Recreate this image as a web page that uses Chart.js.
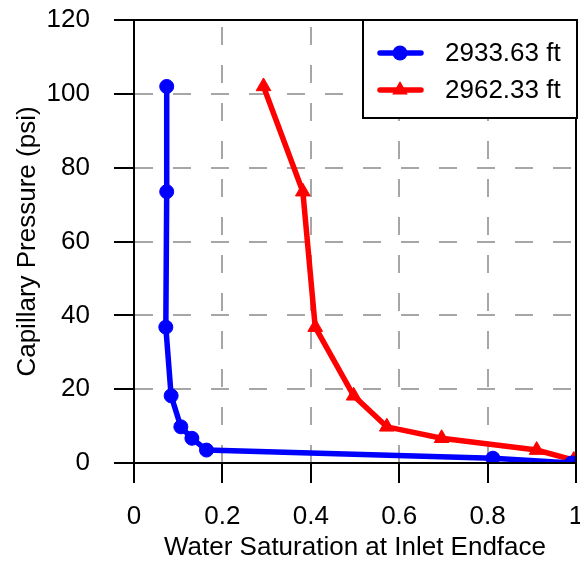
<!DOCTYPE html>
<html>
<head>
<meta charset="utf-8">
<title>Capillary Pressure vs Water Saturation</title>
<script src="https://cdn.jsdelivr.net/npm/chart.js@4.4.0/dist/chart.umd.min.js"></script>
<style>
  html, body { margin: 0; padding: 0; background: #fff; }
  #wrap { width: 580px; height: 564px; }
</style>
</head>
<body>
<div id="wrap"><canvas id="pcChart" width="580" height="564"></canvas></div>
<script>
// Capillary pressure vs inlet water saturation for two core depths
const seriesNames = ['2933.63 ft', '2962.33 ft'];

const swShallow = [0.074, 0.074, 0.072, 0.084, 0.106, 0.131, 0.164, 0.812, 0.99];
const pcShallow = [102, 73.5, 36.8, 18.2, 9.8, 6.7, 3.5, 1.3, 0];

const swDeep = [0.293, 0.382, 0.41, 0.497, 0.572, 0.696, 0.911, 0.995];
const pcDeep = [102, 73.5, 36.8, 18.2, 9.8, 6.7, 3.5, 0.8];

const xTickLabels = ['0', '0.2', '0.4', '0.6', '0.8', '1'];
const yTickLabels = ['0', '20', '40', '60', '80', '100', '120'];

const FONT = { family: '"Liberation Sans", Arial, sans-serif', size: 26 };

function toPoints(xs, ys) {
    return xs.map((x, i) => ({ x: x, y: ys[i] }));
}

function marker(ctx, style, x, y, r) {
    ctx.beginPath();
    if (style === 'triangle') {
        for (let k = 0; k < 3; k++) {
            const a = k * 2 * Math.PI / 3;
            const px = x + Math.sin(a) * r;
            const py = y - Math.cos(a) * r;
            if (k === 0) ctx.moveTo(px, py); else ctx.lineTo(px, py);
        }
        ctx.closePath();
    } else {
        ctx.arc(x, y, r, 0, Math.PI * 2);
    }
    ctx.fill();
}

// axes get a fixed size and no extra edge padding so the plot box lands where we want it
function fixSize(prop, value) {
    return (scale) => {
        scale[prop] = value;
        scale.paddingTop = 0;
        scale.paddingBottom = 0;
        scale.paddingLeft = 0;
        scale.paddingRight = 0;
    };
}

// full black frame around the plot plus the boxed legend in the top right corner
const frameAndLegend = {
    id: 'frameAndLegend',
    afterDraw(chart) {
        const { ctx, chartArea } = chart;
        ctx.save();
        ctx.lineWidth = 2;
        ctx.strokeStyle = '#000';
        ctx.strokeRect(chartArea.left, chartArea.top,
            chartArea.right - chartArea.left, chartArea.bottom - chartArea.top);

        const w = 214, h = 98;
        const x0 = chartArea.right - w + 1;
        const y0 = chartArea.top;
        ctx.fillStyle = '#fff';
        ctx.fillRect(x0, y0, w, h);
        ctx.strokeRect(x0, y0, w, h);

        ctx.font = `${FONT.size}px ${FONT.family}`;
        ctx.textBaseline = 'middle';
        ctx.textAlign = 'left';
        chart.data.datasets.forEach((ds, i) => {
            const cy = y0 + 33 + i * 37;
            ctx.strokeStyle = ds.borderColor;
            ctx.lineWidth = ds.borderWidth;
            ctx.lineCap = 'round';
            ctx.beginPath();
            ctx.moveTo(x0 + 17, cy);
            ctx.lineTo(x0 + 58, cy);
            ctx.stroke();
            ctx.fillStyle = ds.backgroundColor;
            marker(ctx, ds.pointStyle, x0 + 37, cy, ds.pointRadius + 0.5);
            ctx.fillStyle = '#000';
            ctx.fillText(ds.label, x0 + 82, cy + 1);
        });
        ctx.restore();
    }
};

const ctx = document.getElementById('pcChart').getContext('2d');
const pcChart = new Chart(ctx, {
    type: 'scatter',
    data: {
        datasets: [
            {
                label: seriesNames[0],
                data: toPoints(swShallow, pcShallow),
                showLine: true,
                borderColor: '#0000ff',
                backgroundColor: '#0000ff',
                borderWidth: 5.5,
                pointStyle: 'circle',
                pointRadius: 7,
                pointBorderWidth: 1,
                tension: 0
            },
            {
                label: seriesNames[1],
                data: toPoints(swDeep, pcDeep),
                showLine: true,
                borderColor: '#ff0000',
                backgroundColor: '#ff0000',
                borderWidth: 5.5,
                pointStyle: 'triangle',
                pointRadius: 8.5,
                pointBorderWidth: 1,
                tension: 0
            }
        ]
    },
    options: {
        responsive: false,
        animation: false,
        layout: { autoPadding: false, padding: { top: 20, right: 4, left: 0, bottom: 0 } },
        plugins: {
            legend: { display: false },
            tooltip: { enabled: false }
        },
        scales: {
            x: {
                type: 'linear',
                min: 0,
                max: 1,
                afterFit: fixSize('height', 101),
                ticks: {
                    stepSize: 0.2,
                    color: '#000',
                    font: FONT,
                    padding: 18,
                    maxRotation: 0,
                    callback: (v, i) => xTickLabels[i]
                },
                grid: {
                    color: '#a6a6a6',
                    lineWidth: 2,
                    tickColor: '#000',
                    tickLength: 20,
                    tickWidth: 2
                },
                border: { color: '#000', width: 2, dash: [18, 20], dashOffset: 31 },
                title: {
                    display: true,
                    text: 'Water Saturation at Inlet Endface',
                    color: '#000',
                    font: FONT,
                    padding: { top: 0, bottom: 1 }
                }
            },
            y: {
                type: 'linear',
                min: 0,
                max: 120,
                afterFit: fixSize('width', 134),
                ticks: {
                    stepSize: 20,
                    color: '#000',
                    font: FONT,
                    padding: 24,
                    callback: (v, i) => yTickLabels[i]
                },
                grid: {
                    color: '#a6a6a6',
                    lineWidth: 2,
                    tickColor: '#000',
                    tickLength: 20,
                    tickWidth: 2
                },
                border: { color: '#000', width: 2, dash: [18, 20] },
                title: {
                    display: true,
                    text: 'Capillary Pressure (psi)',
                    color: '#000',
                    font: FONT,
                    padding: { top: 12, bottom: 0 }
                }
            }
        }
    },
    plugins: [frameAndLegend]
});
</script>
</body>
</html>
